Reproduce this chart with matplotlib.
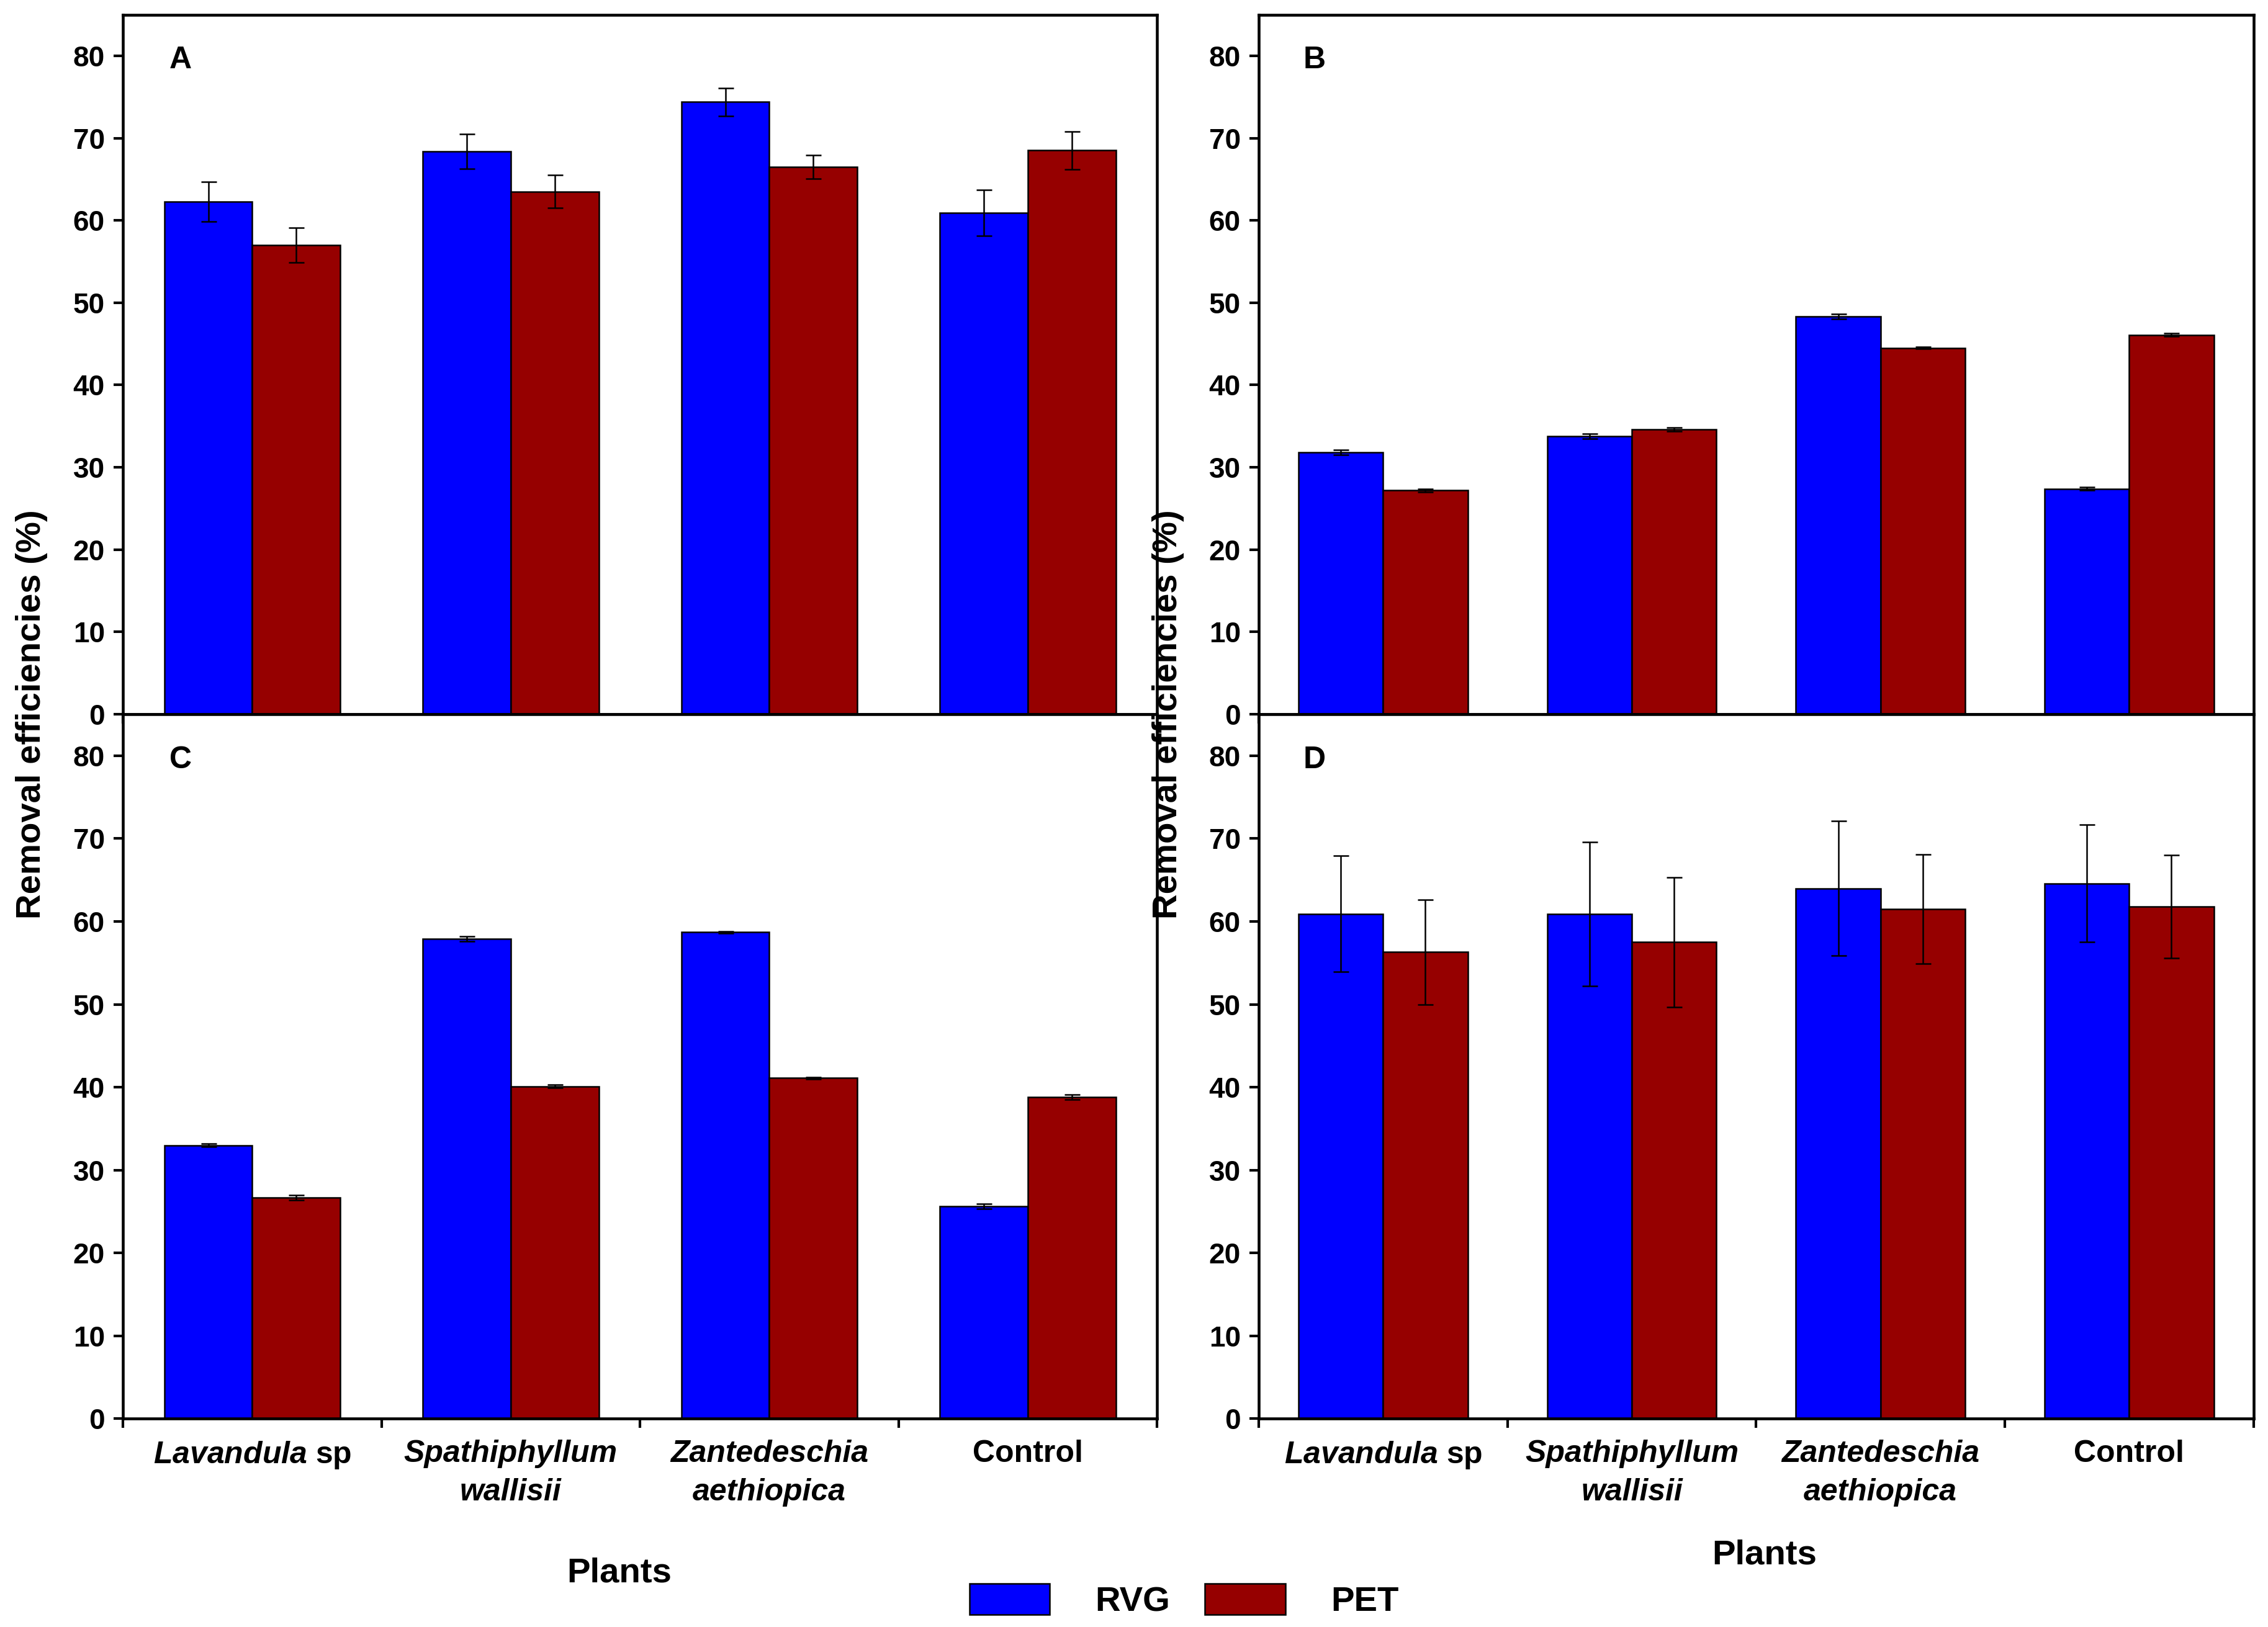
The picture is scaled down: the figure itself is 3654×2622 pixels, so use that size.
import numpy as np
import matplotlib
matplotlib.use('Agg')
import matplotlib.pyplot as plt
from matplotlib.patches import Patch

plt.rcParams['font.family'] = ['Liberation Sans', 'DejaVu Sans']
plt.rcParams['mathtext.fontset'] = 'custom'
plt.rcParams['mathtext.it'] = 'Liberation Sans:italic:bold'
plt.rcParams['mathtext.rm'] = 'Liberation Sans:bold'

# data
plants = [r'$\mathit{Lavandula}$ sp', 'Spathiphyllum\nwallisii', 'Zantedeschia\naethiopica', 'Control']
plant_italic = [False, True, True, False]
panels = ['A', 'B', 'C', 'D']

rvg = {
    'A': [62.3, 68.4, 74.4, 60.9],
    'B': [31.8, 33.8, 48.3, 27.4],
    'C': [33.0, 57.9, 58.7, 25.6],
    'D': [60.9, 60.9, 64.0, 64.6],
}
rvg_err = {
    'A': [2.4, 2.1, 1.7, 2.8],
    'B': [0.3, 0.3, 0.3, 0.2],
    'C': [0.2, 0.3, 0.1, 0.3],
    'D': [7.0, 8.7, 8.1, 7.1],
}
pet = {
    'A': [57.0, 63.5, 66.5, 68.5],
    'B': [27.2, 34.6, 44.5, 46.1],
    'C': [26.7, 40.1, 41.1, 38.8],
    'D': [56.3, 57.5, 61.5, 61.8],
}
pet_err = {
    'A': [2.1, 2.0, 1.4, 2.3],
    'B': [0.2, 0.2, 0.1, 0.2],
    'C': [0.3, 0.2, 0.1, 0.3],
    'D': [6.3, 7.8, 6.6, 6.2],
}

blue = '#0000FF'
red = '#960000'

fig = plt.figure(figsize=(3654 / 300, 2622 / 300), dpi=300)

boxes = {
    'A': [0.0542, 0.561, 0.4560, 0.430],
    'B': [0.5550, 0.561, 0.4386, 0.430],
    'C': [0.0542, 0.128, 0.4560, 0.433],
    'D': [0.5550, 0.128, 0.4386, 0.433],
}

x = np.arange(1, len(plants) + 1)
w = 0.34

for p in panels:
    ax = fig.add_axes(boxes[p])
    ax.bar(x - w / 2, rvg[p], w, color=blue, edgecolor='black', linewidth=0.6,
           yerr=rvg_err[p], error_kw=dict(ecolor='black', elinewidth=0.6, capsize=3, capthick=0.6))
    ax.bar(x + w / 2, pet[p], w, color=red, edgecolor='black', linewidth=0.6,
           yerr=pet_err[p], error_kw=dict(ecolor='black', elinewidth=0.6, capsize=3, capthick=0.6))
    ax.set_xlim(0.5, 4.5)
    ax.set_ylim(0, 85)
    ax.set_yticks(range(0, 81, 10))
    ax.set_xticks(np.arange(0.5, 4.6, 1.0))
    ax.set_xticklabels([])
    ax.set_xticks(x, minor=True)
    ax.tick_params(axis='both', which='major', direction='out', length=3.5, width=1.0,
                   labelsize=11)
    ax.tick_params(axis='x', which='minor', length=0, labelsize=12, pad=8)
    for lbl in ax.get_yticklabels():
        lbl.set_fontweight('bold')
    if p in ('C', 'D'):
        ax.set_xticklabels(plants, minor=True)
        for lbl, it in zip(ax.get_xticklabels(minor=True), plant_italic):
            lbl.set_fontweight('bold')
            lbl.set_linespacing(1.45)
            if it:
                lbl.set_fontstyle('italic')
    for s in ax.spines.values():
        s.set_linewidth(1.1)
    ax.text(0.045, 0.935, p, transform=ax.transAxes, fontsize=12, fontweight='bold',
            va='center', ha='left')

fig.text(0.014, 0.561, 'Removal efficiencies (%)', rotation=90, ha='center', va='center',
         fontsize=13.5, fontweight='bold')
fig.text(0.515, 0.561, 'Removal efficiencies (%)', rotation=90, ha='center', va='center',
         fontsize=13.5, fontweight='bold')
fig.text(0.273, 0.033, 'Plants', ha='center', va='center', fontsize=13.5, fontweight='bold')
fig.text(0.778, 0.044, 'Plants', ha='center', va='center', fontsize=13.5, fontweight='bold')

handles = [Patch(facecolor=blue, edgecolor='black', linewidth=0.6),
           Patch(facecolor=red, edgecolor='black', linewidth=0.6)]
fig.legend(handles, ['RVG', 'PET'], loc='center', bbox_to_anchor=(0.522, 0.016), ncol=2,
           frameon=False, prop={'weight': 'bold', 'size': 13.5}, handlelength=2.3,
           handleheight=1.0, columnspacing=1.0, handletextpad=1.3)

fig.savefig('out.png', dpi=300)
